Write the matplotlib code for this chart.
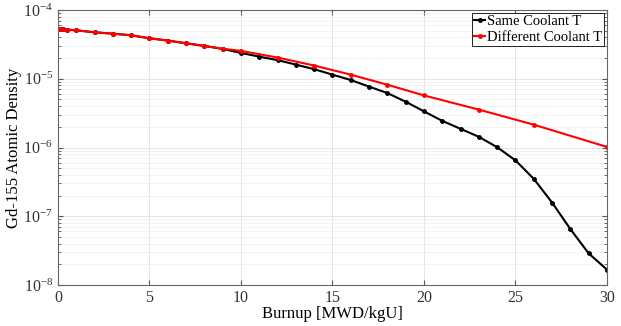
# Gd-155 atomic density vs burnup
import numpy as np
import matplotlib
matplotlib.use('Agg')
import matplotlib.pyplot as plt
from matplotlib.ticker import LogLocator, NullFormatter

plt.rcParams['font.family'] = 'Liberation Serif'
plt.rcParams['mathtext.fontset'] = 'custom'
plt.rcParams['mathtext.rm'] = 'Liberation Serif'

# burnup steps [MWD/kgU]
x_same = [0, 0.1, 0.25, 0.5, 1, 2, 3, 4, 5, 6, 7, 8, 9, 10, 11, 12, 13, 14, 15,
          16, 17, 18, 19, 20, 21, 22, 23, 24, 25, 26, 27, 28, 29, 30]
y_same = [5.31e-5, 5.29e-5, 5.26e-5, 5.2e-5, 5.08e-5, 4.75e-5, 4.54e-5, 4.30e-5,
          3.89e-5, 3.60e-5, 3.29e-5, 3.01e-5, 2.72e-5, 2.38e-5, 2.10e-5, 1.87e-5,
          1.61e-5, 1.38e-5, 1.15e-5, 9.6e-6, 7.7e-6, 6.2e-6, 4.64e-6, 3.36e-6,
          2.44e-6, 1.87e-6, 1.43e-6, 1.01e-6, 6.5e-7, 3.5e-7, 1.58e-7, 6.5e-8,
          2.88e-8, 1.67e-8]

x_diff = [0, 0.1, 0.25, 0.5, 1, 2, 3, 4, 5, 6, 7, 8, 9, 10, 12, 14, 16, 18, 20,
          23, 26, 30]
y_diff = [5.31e-5, 5.29e-5, 5.26e-5, 5.2e-5, 5.08e-5, 4.75e-5, 4.54e-5, 4.30e-5,
          3.89e-5, 3.60e-5, 3.29e-5, 3.01e-5, 2.74e-5, 2.55e-5, 2.04e-5, 1.56e-5,
          1.15e-5, 8.2e-6, 5.73e-6, 3.56e-6, 2.15e-6, 1.02e-6]

fig = plt.figure(figsize=(6.21, 3.26), dpi=100)
ax = fig.add_axes([0.0934, 0.126, 0.884, 0.843])

ax.semilogy(x_same, y_same, '-', color='black', lw=1.5, marker='.', ms=5,
            label='Same Coolant T')
ax.semilogy(x_diff, y_diff, '-', color='red', lw=1.5, marker='.', ms=5,
            label='Different Coolant T')

ax.set_xlim(0, 30)
ax.set_ylim(1e-8, 1e-4)
ax.set_xticks([0, 5, 10, 15, 20, 25, 30])
ax.yaxis.set_major_locator(LogLocator(base=10, numticks=10))
ax.yaxis.set_minor_locator(LogLocator(base=10, subs=np.arange(2, 10), numticks=10))
ax.yaxis.set_minor_formatter(NullFormatter())

ax.grid(True, which='major', color='#e0e0e0', lw=0.6)
ax.grid(True, which='minor', axis='y', color='#efefef', lw=0.5)
ax.tick_params(which='both', direction='in', top=True, right=True,
               colors='#555555', labelcolor='#333333', labelsize=11.5)
for s in ax.spines.values():
    s.set_color('#666666')
    s.set_linewidth(0.8)

ax.set_xlabel('Burnup [MWD/kgU]', fontsize=12, labelpad=0)
ax.set_ylabel('Gd-155 Atomic Density', fontsize=12, labelpad=1)

leg = ax.legend(loc='upper right', fontsize=10.5, fancybox=False, framealpha=1,
                edgecolor='black', borderpad=0.15, handlelength=0.8,
                handletextpad=0.1, labelspacing=0.15, borderaxespad=0.2)
leg.get_frame().set_linewidth(0.6)

fig.savefig('out.png', dpi=100)
